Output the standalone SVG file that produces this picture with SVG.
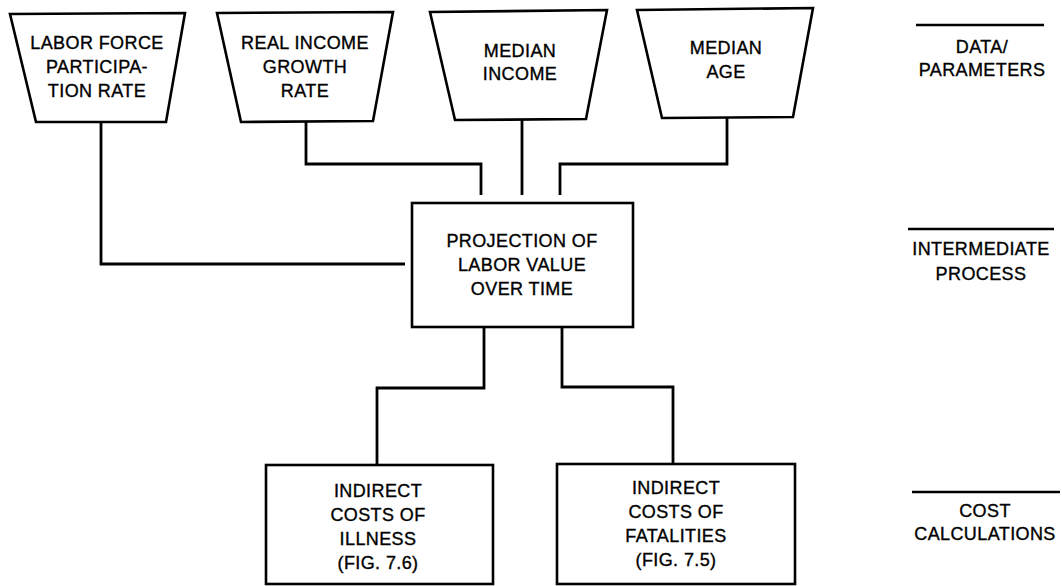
<svg xmlns="http://www.w3.org/2000/svg" width="1062" height="586" viewBox="0 0 1062 586">
<style>
.s{fill:#fff;stroke:#000;stroke-width:2.6;stroke-linejoin:miter}
.c{fill:none;stroke:#000;stroke-width:2.8}
.t{font-family:"Liberation Sans",Arial,sans-serif;font-size:18px;fill:#000;stroke:#000;stroke-width:0.35;text-anchor:middle;letter-spacing:0.4px}
.r{fill:none;stroke:#000;stroke-width:2.6}
</style>
<rect width="1062" height="586" fill="#fff"/>
<g id="connectors">
<path class="c" d="M101,122 V264 H405"/>
<path class="c" d="M306,121 V164 H481 V195"/>
<path class="c" d="M522,119 V195"/>
<path class="c" d="M727,117 V164 H560 V195"/>
<path class="c" d="M484,327 V388 H377 V465"/>
<path class="c" d="M562,327 V387 H673 V464"/>
</g>
<g id="labor-force">
<polygon class="s" points="10,14 185,13 166,122 36,122"/>
<text class="t" x="97" y="49">LABOR FORCE</text>
<text class="t" x="97" y="73">PARTICIPA-</text>
<text class="t" x="97" y="97">TION RATE</text>
</g>
<g id="real-income">
<polygon class="s" points="217,13 393,12 373,121 241,122"/>
<text class="t" x="305" y="49">REAL INCOME</text>
<text class="t" x="305" y="73">GROWTH</text>
<text class="t" x="305" y="97">RATE</text>
</g>
<g id="median-income">
<polygon class="s" points="430,12 607,10 586,119 455,120"/>
<text class="t" x="520" y="57">MEDIAN</text>
<text class="t" x="520" y="80">INCOME</text>
</g>
<g id="median-age">
<polygon class="s" points="637,10 813,8 793,117 662,118"/>
<text class="t" x="726" y="54">MEDIAN</text>
<text class="t" x="726" y="78">AGE</text>
</g>
<g id="projection">
<rect class="s" x="412" y="203" width="221" height="124"/>
<text class="t" x="522" y="247">PROJECTION OF</text>
<text class="t" x="522" y="271">LABOR VALUE</text>
<text class="t" x="522" y="295">OVER TIME</text>
</g>
<g id="illness">
<rect class="s" x="266" y="465" width="227" height="119"/>
<text class="t" x="378" y="497">INDIRECT</text>
<text class="t" x="378" y="521">COSTS OF</text>
<text class="t" x="378" y="545">ILLNESS</text>
<text class="t" x="378" y="569">(FIG. 7.6)</text>
</g>
<g id="fatalities">
<rect class="s" x="557" y="464" width="238" height="120"/>
<text class="t" x="676" y="494">INDIRECT</text>
<text class="t" x="676" y="518">COSTS OF</text>
<text class="t" x="676" y="542">FATALITIES</text>
<text class="t" x="676" y="566">(FIG. 7.5)</text>
</g>
<g id="level-labels">
<line class="r" x1="916" y1="25" x2="1044" y2="25"/>
<text class="t" x="982" y="53">DATA/</text>
<text class="t" x="982" y="76">PARAMETERS</text>
<line class="r" x1="908" y1="229" x2="1054" y2="229"/>
<text class="t" x="981" y="255">INTERMEDIATE</text>
<text class="t" x="981" y="280">PROCESS</text>
<line class="r" x1="912" y1="492" x2="1060" y2="492"/>
<text class="t" x="985" y="517">COST</text>
<text class="t" x="985" y="540">CALCULATIONS</text>
</g>
</svg>
